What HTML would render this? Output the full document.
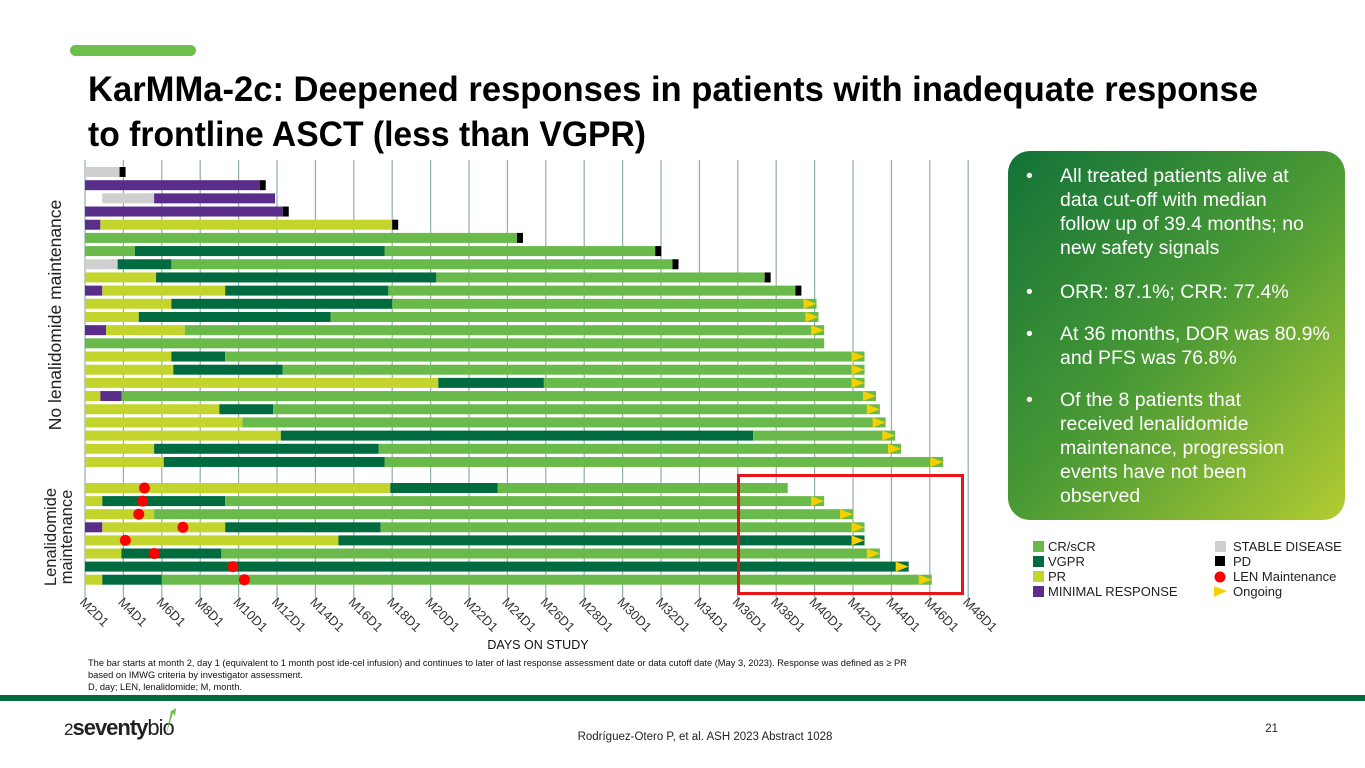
<!DOCTYPE html>
<html><head><meta charset="utf-8"><style>
body{margin:0;background:#fff}
svg{display:block;font-family:"Liberation Sans",Arial,sans-serif}
</style></head><body>
<svg id="s" width="1365" height="768" viewBox="0 0 1365 768">
<rect x="70" y="45" width="126" height="11" rx="5.5" fill="#6cbf4b"/>
<g font-weight="bold" font-size="35" fill="#000">
<text x="88" y="101" textLength="1170" lengthAdjust="spacingAndGlyphs">KarMMa-2c: Deepened responses in patients with inadequate response</text>
<text x="88" y="146" textLength="558" lengthAdjust="spacingAndGlyphs">to frontline ASCT  (less than VGPR)</text>
</g>
<g id="grid"></g>
<g id="bars"></g>
<g id="xlabels" font-size="13" fill="#333"></g>
<rect x="738.5" y="475.5" width="224" height="118" fill="none" stroke="#e8141a" stroke-width="3"/>
<text x="538" y="649" font-size="12.5" text-anchor="middle" fill="#111">DAYS ON STUDY</text>
<text transform="translate(61,315) rotate(-90)" font-size="17.5" text-anchor="middle" fill="#222">No lenalidomide maintenance</text>
<g transform="translate(56,537) rotate(-90)" font-size="16.5" text-anchor="middle" fill="#222">
<text x="0" y="0">Lenalidomide</text><text x="0" y="16">maintenance</text></g>
<defs><linearGradient id="pg" x1="0" y1="0" x2="1" y2="1">
<stop offset="0" stop-color="#127238"/><stop offset="0.5" stop-color="#4a9a35"/><stop offset="1" stop-color="#b3cc32"/></linearGradient></defs>
<g>
<rect x="1008" y="151" width="337" height="369" rx="22" fill="url(#pg)"/>
<g fill="#fff" font-size="19.5">
<text x="1026" y="182">•</text><text x="1060" y="182">All treated patients alive at</text>
<text x="1060" y="206">data cut-off with median</text>
<text x="1060" y="230">follow up of 39.4 months; no</text>
<text x="1060" y="254">new safety signals</text>
<text x="1026" y="298">•</text><text x="1060" y="298">ORR: 87.1%; CRR: 77.4%</text>
<text x="1026" y="340">•</text><text x="1060" y="340">At 36 months, DOR was 80.9%</text>
<text x="1060" y="364">and PFS was 76.8%</text>
<text x="1026" y="406">•</text><text x="1060" y="406">Of the 8 patients that</text>
<text x="1060" y="430">received lenalidomide</text>
<text x="1060" y="454">maintenance, progression</text>
<text x="1060" y="478">events have not been</text>
<text x="1060" y="502">observed</text>
</g></g>
<g font-size="13" fill="#222">
<g><rect x="1033" y="541" width="11" height="11" fill="#6ab94b"/><text x="1048" y="551">CR/sCR</text></g>
<g><rect x="1033" y="556" width="11" height="11" fill="#006b3e"/><text x="1048" y="566">VGPR</text></g>
<g><rect x="1033" y="571" width="11" height="11" fill="#c3d42c"/><text x="1048" y="581">PR</text></g>
<g><rect x="1033" y="586" width="11" height="11" fill="#5a2d8a"/><text x="1048" y="596">MINIMAL RESPONSE</text></g>
<g><rect x="1215" y="541" width="11" height="11" fill="#cfcfcf"/><text x="1233" y="551">STABLE DISEASE</text></g>
<g><rect x="1215" y="556" width="10" height="10" fill="#000"/><text x="1233" y="566">PD</text></g>
<g><circle cx="1220" cy="577" r="5.5" fill="#f00"/><text x="1233" y="581">LEN Maintenance</text></g>
<g><polygon points="1214,586 1227,591 1214,597" fill="#f5d000"/><text x="1233" y="596">Ongoing</text></g>
</g>
<g font-size="9.3" fill="#111">
<text x="88" y="666">The bar starts at month 2, day 1 (equivalent to 1 month post ide-cel infusion) and continues to later of last response assessment date or data cutoff date (May 3, 2023). Response was defined as ≥ PR</text>
<text x="88" y="678">based on IMWG criteria by investigator assessment.</text>
<text x="88" y="690">D, day; LEN, lenalidomide; M, month.</text>
</g>
<rect x="0" y="695" width="1365" height="6" fill="#006b3e"/>
<g>
<text x="64" y="735" font-size="22" fill="#222" letter-spacing="-1"><tspan font-size="17">2</tspan><tspan font-weight="bold">seventy</tspan><tspan>bio</tspan></text>
<path d="M166 735 L171 711 L168 713 L176 708 L175 716 L173 713 Z" fill="#6cbf4b"/>
</g>
<text x="705" y="740" font-size="11.5" text-anchor="middle" fill="#222">Rodríguez-Otero P, et al. ASH 2023 Abstract 1028</text>
<text x="1278" y="732" font-size="11.5" text-anchor="end" fill="#222">21</text>
</svg>
<script>
// segments: [status, startMonth, endMonth]; status: S=stable, M=minimal, P=PR, V=VGPR, C=CR
const rowsNoLen = [
 [['S',2,3.8]],
 [['M',2,11.1]],
 [['S',2.9,5.6],['M',5.6,11.9]],
 [['M',2,12.3]],
 [['M',2,2.8],['P',2.8,18.0]],
 [['C',2,24.5]],
 [['C',2,4.6],['V',4.6,17.6],['C',17.6,31.7]],
 [['S',2,3.7],['V',3.7,6.5],['C',6.5,32.6]],
 [['P',2,5.7],['V',5.7,20.3],['C',20.3,37.4]],
 [['M',2,2.9],['P',2.9,9.3],['V',9.3,17.8],['C',17.8,39.0]],
 [['P',2,6.5],['V',6.5,18.0],['C',18.0,40.1]],
 [['P',2,4.8],['V',4.8,14.8],['C',14.8,40.2]],
 [['M',2,3.1],['P',3.1,7.2],['C',7.2,40.5]],
 [['C',2,40.5]],
 [['P',2,6.5],['V',6.5,9.3],['C',9.3,42.6]],
 [['P',2,6.6],['V',6.6,12.3],['C',12.3,42.6]],
 [['P',2,20.4],['V',20.4,25.9],['C',25.9,42.6]],
 [['P',2,2.8],['M',2.8,3.9],['C',3.9,43.2]],
 [['P',2,9.0],['V',9.0,11.8],['C',11.8,43.4]],
 [['P',2,10.2],['C',10.2,43.7]],
 [['P',2,12.2],['V',12.2,36.8],['C',36.8,44.2]],
 [['P',2,5.6],['V',5.6,17.3],['C',17.3,44.5]],
 [['P',2,6.1],['V',6.1,17.6],['C',17.6,46.7]]
];
const endNoLen = ['PD','PD','','PD','PD','PD','PD','PD','PD','PD','ON','ON','ON','','ON','ON','ON','ON','ON','ON','ON','ON','ON'];
const rowsLen = [
 [['P',2,17.9],['V',17.9,23.5],['C',23.5,38.6]],
 [['P',2,2.9],['V',2.9,9.3],['C',9.3,40.5]],
 [['P',2,5.6],['C',5.6,42.0]],
 [['M',2,2.9],['P',2.9,9.3],['V',9.3,17.4],['C',17.4,42.6]],
 [['P',2,15.2],['V',15.2,42.6]],
 [['P',2,3.9],['V',3.9,9.1],['C',9.1,43.4]],
 [['V',2,44.9]],
 [['P',2,2.9],['V',2.9,6.0],['C',6.0,46.1]]
];
const endLen = ['','ON','ON','ON','ON','ON','ON','ON'];
const lenStart = [5.1,5.0,4.8,7.1,4.1,5.6,9.7,10.3];
const tickMonths = [2,4,6,8,10,12,14,16,18,20,22,24,26,28,30,32,34,36,38,40,42,44,46,48];

const colors = {S:'#cfcfcf',M:'#5a2d8a',P:'#c3d42c',V:'#006b3e',C:'#6ab94b'};
const X = m => 85 + (m-2)*19.2;
const yTop = i => 172 + i*13.18;
const yLow = i => 488 + i*13.1;
const NS='http://www.w3.org/2000/svg';
function mk(tag, attrs, parent){const e=document.createElementNS(NS,tag);for(const k in attrs)e.setAttribute(k,attrs[k]);parent.appendChild(e);return e;}
const grid=document.getElementById('grid'), bars=document.getElementById('bars'), xl=document.getElementById('xlabels');
tickMonths.forEach(m=>{
 const l=mk('line',{x1:X(m),x2:X(m),y1:160,y2:598,stroke:'#8fb0ad','stroke-width':1.2},grid);
 
 
 const t=mk('text',{transform:`translate(${X(m)-6},${603}) rotate(45)`},xl);
 t.textContent='M'+m+'D1';
 
 
});
function drawRow(segs,end,cy){
 const g=mk('g',{},bars);
 
 
 segs.forEach(s=>{
  const r=mk('rect',{x:X(s[1]),y:cy-5,width:Math.max(0,X(s[2])-X(s[1])),height:10,fill:colors[s[0]]},g);
  
  
 });
 const e=X(segs[segs.length-1][2]);
 if(end==='PD'){const p=mk('rect',{x:e,y:cy-5,width:6,height:10,fill:'#000'},g);
  
  }
 if(end==='ON'){const p=mk('polygon',{points:`${e-13},${cy-5} ${e},${cy} ${e-13},${cy+5}`,fill:'#f5d000'},g);
  
  }
 return g;
}
rowsNoLen.forEach((r,i)=>drawRow(r,endNoLen[i],yTop(i)));
rowsLen.forEach((r,i)=>{
 const g=drawRow(r,endLen[i],yLow(i));
 const c=mk('circle',{cx:X(lenStart[i]),cy:yLow(i),r:5.5,fill:'#f00'},g);
 
 
});
</script>
</body></html>
